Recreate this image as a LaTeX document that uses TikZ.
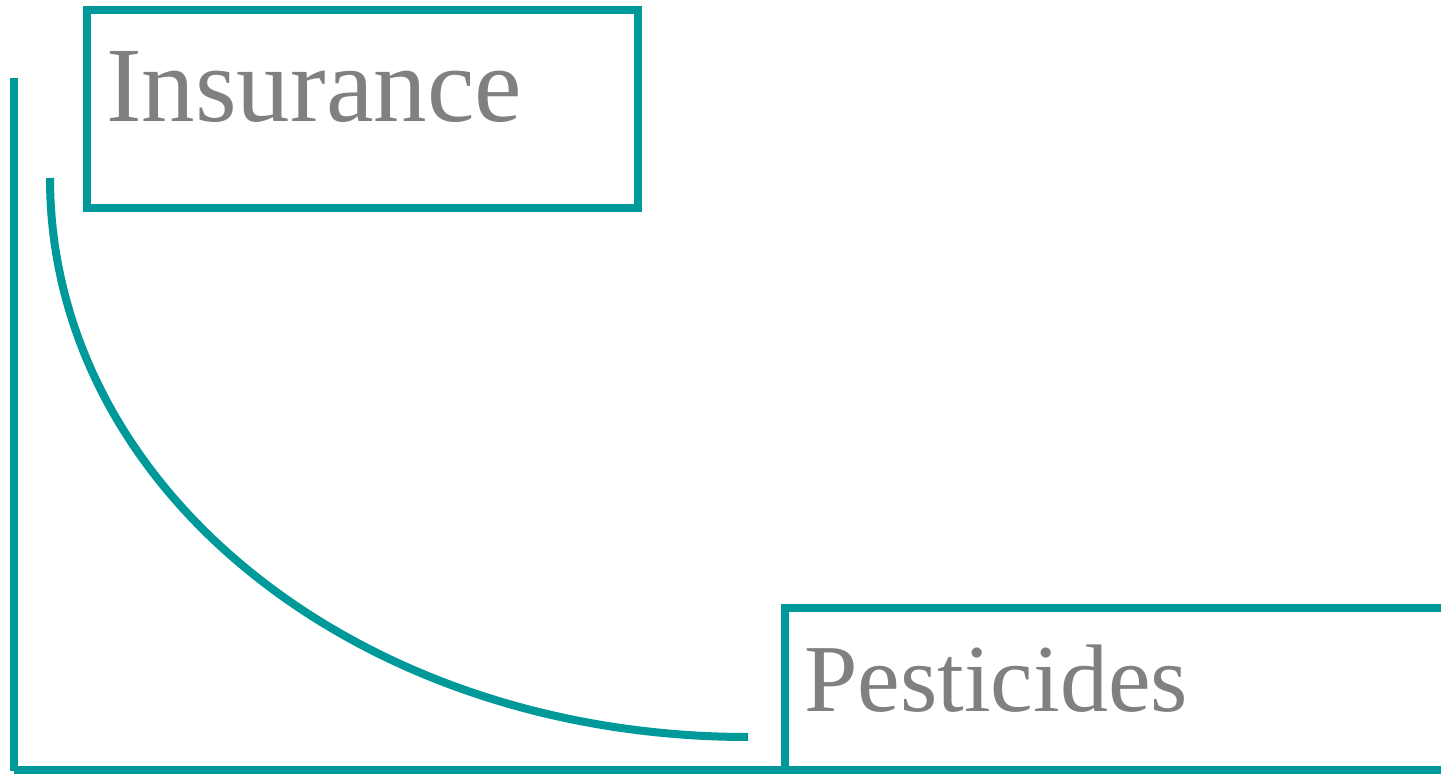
\documentclass[tikz,border=0pt]{standalone}
\usepackage{fontspec}
\setmainfont{Liberation Serif}
\definecolor{teal1}{RGB}{0,153,153}
\definecolor{txtgray}{RGB}{128,128,128}
\begin{document}
\begin{tikzpicture}[x=1pt,y=-1pt,
  line/.style={draw=teal1,line width=8pt},
  boxst/.style={line,rectangle,inner sep=0pt,outer sep=0pt,anchor=north west},
  lbl/.style={text=txtgray,inner sep=0pt,anchor=base west}]
\useasboundingbox (0,0) rectangle (1441,775);
\clip (0,0) rectangle (1441,775);
% boxes
\node[boxst,minimum width=551pt,minimum height=198pt] (insbox) at (87,10) {};
\node[boxst,minimum width=700pt,minimum height=162pt] (pestbox) at (785,608) {};
\node[lbl,font=\fontsize{107}{110}\selectfont] (ins) at (106,122) {Insurance};
\node[lbl,font=\fontsize{96}{100}\selectfont] (pest) at (804,711) {Pesticides};
% axes
\coordinate (ytop) at (14,78);
\coordinate (origin) at (14,770);
\coordinate (xend) at (pestbox.south west);
\draw[line] (ytop) -- (14,771);
\draw[line] (origin) -- (xend);
% curve
\coordinate (cs) at (50,178);
\coordinate (ce) at (748,737);
\draw[line] (cs) .. controls (50,490) and (360,737) .. (ce);
\end{tikzpicture}
\end{document}
